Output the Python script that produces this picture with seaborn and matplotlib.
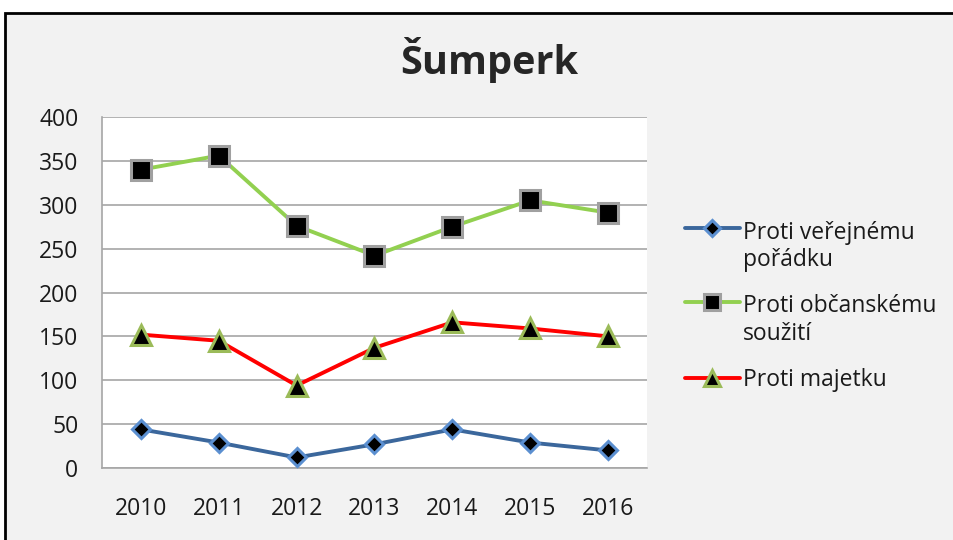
import numpy as np
import pandas as pd
import matplotlib.pyplot as plt
import seaborn as sns
from matplotlib.patches import Rectangle
from matplotlib.legend_handler import HandlerLine2D
from matplotlib.transforms import Affine2D

roky = ['2010', '2011', '2012', '2013', '2014', '2015', '2016']
poradek = [44, 29, 12, 27, 44, 29, 20]
souziti = [340, 356, 276, 242, 275, 305, 291]
majetek = [152, 145, 94, 137, 166, 159, 150]

nazvy = ['Proti veřejnému\npořádku', 'Proti občanskému\nsoužití', 'Proti majetku']

sns.set_style('white')
plt.rcParams['font.family'] = ['Open Sans', 'DejaVu Sans']


# znacka v legende zarovnana na prvni radek textu (jako v Excelu)
class HandlerPrvniRadek(HandlerLine2D):
    def __init__(self, posun=0, **kw):
        super().__init__(**kw)
        self.posun = posun

    def create_artists(self, legend, orig_handle, xdescent, ydescent, width, height, fontsize, trans):
        trans = Affine2D().translate(0, self.posun) + trans
        return super().create_artists(legend, orig_handle, xdescent, ydescent, width, height, fontsize, trans)


fig = plt.figure(figsize=(9.54, 5.4), dpi=100)
fig.patch.set_facecolor('white')
# sede pozadi s cernym ramem
fig.patches.append(Rectangle((5 / 954, -0.1), 1.1, 1 - 13 / 540 + 0.1, transform=fig.transFigure,
                             facecolor='#f2f2f2', edgecolor='black', linewidth=2, zorder=-10))

ax = fig.add_axes([102 / 954, 1 - 468 / 540, 545 / 954, 351 / 540])
ax.set_facecolor('white')

styly = [
    (poradek, '#3b679c', 'D', 'black', '#5b8fd0', 9),
    (souziti, '#92d050', 's', 'black', '#a0a0a0', 14),
    (majetek, '#ff0000', '^', 'black', '#9bbb59', 14),
]
for (hodnoty, barva, mk, fc, ec, ms), nazev in zip(styly, nazvy):
    df = pd.DataFrame({'rok': roky, 'pocet': hodnoty})
    sns.lineplot(data=df, x='rok', y='pocet', ax=ax, color=barva, linewidth=2.8,
                 marker=mk, markersize=ms, markerfacecolor=fc, markeredgecolor=ec,
                 markeredgewidth=2.2, label=nazev, zorder=3)

ax.set_xlim(-0.5, 6.5)
ax.set_ylim(0, 400)
ax.set_yticks(range(0, 401, 50))
ax.yaxis.grid(True, color='#a6a6a6', linewidth=1.2)
ax.set_xticks(range(7))
ax.set_xticks(np.arange(-0.5, 7, 1), minor=True)
ax.tick_params(axis='x', which='major', length=0, pad=21, labelsize=16.5, labelcolor='#1a1a1a')
ax.tick_params(axis='x', which='minor', length=7, color='#a6a6a6', width=1.2, direction='out')
ax.tick_params(axis='y', length=7, color='#a6a6a6', width=1.2, direction='out', labelsize=16.5,
               pad=10, labelcolor='#1a1a1a')
for s in ['top', 'right']:
    ax.spines[s].set_visible(False)
for s in ['left', 'bottom']:
    ax.spines[s].set_color('#a6a6a6')
    ax.spines[s].set_linewidth(1.2)
ax.set_xlabel('')
ax.set_ylabel('')

fig.suptitle('Šumperk', x=489 / 954, y=1 - 60 / 540, va='center', fontsize=28.5, fontweight='bold')

h, l = ax.get_legend_handles_labels()
ax.get_legend().remove()
mapa = {h[0]: HandlerPrvniRadek(posun=13.8), h[1]: HandlerPrvniRadek(posun=13.8), h[2]: HandlerPrvniRadek(posun=0)}
fig.legend(h, l, loc='center left', bbox_to_anchor=(664 / 954, 1 - 306.5 / 540), frameon=False,
           fontsize=16.5, handlelength=2.4, labelspacing=0.97, handletextpad=0.15, handler_map=mapa,
           markerscale=0.85, labelcolor='#1a1a1a')

fig.savefig('out.png', dpi=100)
